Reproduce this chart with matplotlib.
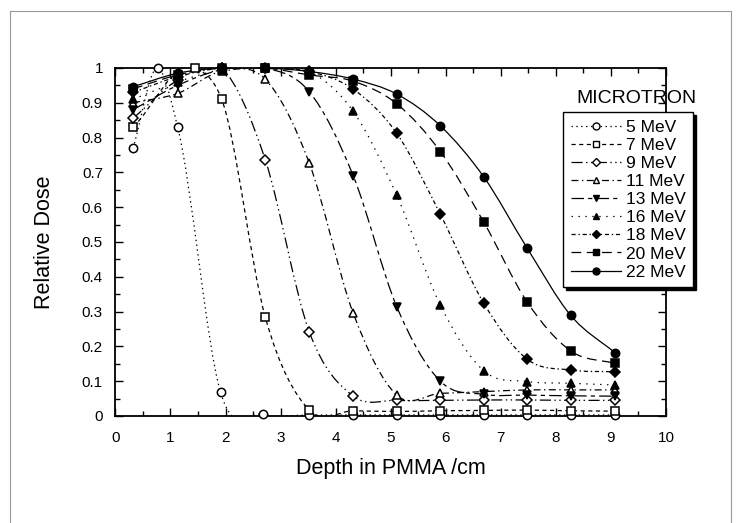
import numpy as np
import matplotlib
matplotlib.use("Agg")
import matplotlib.pyplot as plt
from matplotlib.path import Path
from matplotlib.patches import PathPatch, Rectangle
from matplotlib.lines import Line2D
from matplotlib.ticker import MultipleLocator

plt.rcParams['font.family'] = ['Liberation Sans', 'DejaVu Sans']
plt.rcParams['lines.scale_dashes'] = False

# measurement depths (cm)
depth = [0.32, 1.13, 1.93, 2.72, 3.52, 4.32, 5.11, 5.9, 6.69, 7.48, 8.27, 9.07]
depth_5 = [0.32, 0.77, 1.13, 1.91, 2.68, 3.52, 4.32, 5.11, 5.9, 6.69, 7.48, 8.27, 9.07]
depth_7 = [0.32, 1.44, 1.93, 2.72, 3.52, 4.32, 5.11, 5.9, 6.69, 7.48, 8.27, 9.07]

dose_5 = [0.77, 1.0, 0.83, 0.068, 0.005, 0.003, 0.003, 0.003, 0.003, 0.003, 0.003, 0.003, 0.003]
dose_7 = [0.83, 1.0, 0.91, 0.285, 0.017, 0.015, 0.013, 0.015, 0.016, 0.017, 0.015, 0.014]
dose_9 = [0.855, 0.965, 1.0, 0.737, 0.242, 0.057, 0.045, 0.045, 0.046, 0.046, 0.045, 0.045]
dose_11 = [0.90, 0.927, 0.99, 0.968, 0.727, 0.295, 0.06, 0.065, 0.07, 0.075, 0.075, 0.075]
dose_13 = [0.88, 0.95, 0.995, 1.0, 0.932, 0.69, 0.314, 0.10, 0.062, 0.06, 0.058, 0.057]
dose_16 = [0.91, 0.96, 0.995, 1.0, 0.99, 0.875, 0.634, 0.319, 0.13, 0.099, 0.094, 0.089]
dose_18 = [0.93, 0.975, 1.0, 1.0, 0.99, 0.939, 0.812, 0.58, 0.324, 0.163, 0.132, 0.127]
dose_20 = [0.94, 0.98, 1.0, 1.0, 0.98, 0.962, 0.897, 0.76, 0.557, 0.327, 0.187, 0.151]
dose_22 = [0.946, 0.985, 1.0, 1.0, 0.99, 0.968, 0.925, 0.834, 0.687, 0.482, 0.289, 0.182]

labels = ['5 MeV', '7 MeV', '9 MeV', '11 MeV', '13 MeV', '16 MeV', '18 MeV', '20 MeV', '22 MeV']
xs = [depth_5, depth_7, depth, depth, depth, depth, depth, depth, depth]
ys = [dose_5, dose_7, dose_9, dose_11, dose_13, dose_16, dose_18, dose_20, dose_22]
markers = ['o', 's', 'D', '^', 'v', '^', 'D', 's', 'o']
filled = [False, False, False, False, True, True, True, True, True]
msizes = [6, 6, 5, 6, 6, 6, 5, 6, 6]
styles = [(0, (1, 2.5)), (0, (3, 2.5)), (0, (8, 2.5, 1, 2.5, 1, 2.5)),
          (0, (5, 2.5, 1, 2.5)), (0, (9, 3, 3, 3)), (0, (1, 4)),
          (0, (3, 2, 1, 2)), (0, (7, 4)), '-']

xticks = [0, 1, 2, 3, 4, 5, 6, 7, 8, 9, 10]
yticks = [0, 0.1, 0.2, 0.3, 0.4, 0.5, 0.6, 0.7, 0.8, 0.9, 1]
yticklabels = ['0', '0.1', '0.2', '0.3', '0.4', '0.5', '0.6', '0.7', '0.8', '0.9', '1']


def smooth_path(x, y):
    # cubic hermite through the points, drawn as bezier segments
    x = np.asarray(x, float)
    y = np.asarray(y, float)
    m = np.gradient(y, x)
    verts = [(x[0], y[0])]
    codes = [Path.MOVETO]
    for i in range(len(x) - 1):
        h = x[i + 1] - x[i]
        verts += [(x[i] + h / 3, y[i] + m[i] * h / 3),
                  (x[i + 1] - h / 3, y[i + 1] - m[i + 1] * h / 3),
                  (x[i + 1], y[i + 1])]
        codes += [Path.CURVE4] * 3
    return Path(verts, codes)


fig = plt.figure(figsize=(7.4, 5.23), dpi=100)
ax = fig.add_axes([0.156, 0.2046, 0.744, 0.6654])

handles = []
for x, y, mk, fl, ms, ls, lab in zip(xs, ys, markers, filled, msizes, styles, labels):
    fc = 'black' if fl else 'white'
    ax.add_patch(PathPatch(smooth_path(x, y), fill=False, edgecolor='black',
                           linewidth=0.9, linestyle=ls))
    ax.plot(x, y, linestyle='none', marker=mk, markersize=ms, markerfacecolor=fc,
            markeredgecolor='black', markeredgewidth=1.1, zorder=3, clip_on=False)
    handles.append(Line2D([], [], color='black', linewidth=0.9, linestyle=ls, marker=mk,
                          markersize=ms - 1, markerfacecolor=fc, markeredgecolor='black',
                          markeredgewidth=1.0, label=lab))

ax.set_xlim(0, 10)
ax.set_ylim(0, 1)
ax.set_xticks(xticks)
ax.set_xticklabels([str(t) for t in xticks])
ax.set_yticks(yticks)
ax.set_yticklabels(yticklabels)
ax.xaxis.set_minor_locator(MultipleLocator(0.5))
ax.yaxis.set_minor_locator(MultipleLocator(0.05))
ax.tick_params(which='both', direction='in', top=True, right=True, width=1.0)
ax.tick_params(which='major', length=6)
ax.tick_params(which='minor', length=3.5)
ax.tick_params(axis='x', which='major', pad=11, labelsize=11)
ax.tick_params(axis='y', which='major', pad=9, labelsize=11)
for s in ax.spines.values():
    s.set_linewidth(1.3)

ax.set_xlabel('Depth in PMMA /cm', fontsize=15.5, labelpad=9)
ax.set_ylabel('Relative Dose', fontsize=15.5, labelpad=19)

ax.text(0.838, 0.912, 'MICROTRON', transform=ax.transAxes, fontsize=14,
        ha='left', va='center')

leg = ax.legend(handles=handles, loc='upper left', bbox_to_anchor=(0.813, 0.874),
                frameon=True, fancybox=False,
                shadow={'facecolor': 'black', 'edgecolor': 'black', 'alpha': 1},
                fontsize=12.5, handlelength=2.9, handletextpad=0.25, labelspacing=0.17,
                borderpad=0.45, borderaxespad=0, numpoints=1)
leg.get_frame().set_edgecolor('black')
leg.get_frame().set_linewidth(1.0)
leg.get_frame().set_alpha(1)
leg.set_zorder(5)

fig.add_artist(Rectangle((10 / 740, -0.01), 721 / 740, 1 - 11 / 523 + 0.01,
                         transform=fig.transFigure, fill=False,
                         edgecolor='#999999', linewidth=0.8))

fig.savefig('out.png', dpi=100)
